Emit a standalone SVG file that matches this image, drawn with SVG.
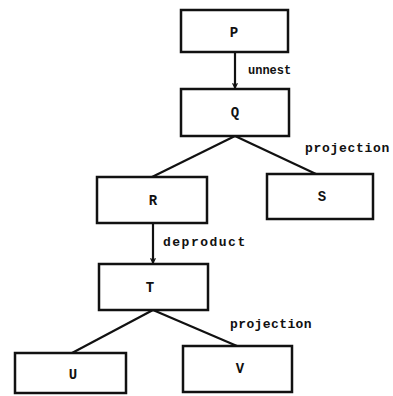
<svg xmlns="http://www.w3.org/2000/svg" width="393" height="396" viewBox="0 0 393 396">
<style>
.box{fill:none;stroke:#111;stroke-width:2.5}
.nl{font-family:"Liberation Mono",monospace;font-weight:bold;font-size:14px;fill:#111;text-anchor:middle;dominant-baseline:central}
.el{font-family:"Liberation Mono",monospace;font-weight:bold;fill:#111}
.c{fill:none;stroke:#111;stroke-width:2.2}
</style>
<defs>
<marker id="ah" viewBox="0 0 10 10" refX="9" refY="5" markerWidth="6" markerHeight="6" orient="auto" markerUnits="userSpaceOnUse">
<path d="M1,1 L9,5 L1,9" fill="none" stroke="#111" stroke-width="2"/>
</marker>
</defs>
<rect width="393" height="396" fill="#fff"/>
<g id="connectors">
<line class="c" x1="235" y1="52" x2="235" y2="88" marker-end="url(#ah)"/>
<line class="c" x1="235" y1="136" x2="152" y2="177"/>
<line class="c" x1="235" y1="136" x2="316" y2="174"/>
<line class="c" x1="153" y1="223" x2="153" y2="263" marker-end="url(#ah)"/>
<line class="c" x1="153" y1="310" x2="72" y2="353"/>
<line class="c" x1="153" y1="310" x2="237" y2="346"/>
<text class="el" x="248" y="74" font-size="12">unnest</text>
<text class="el" x="163" y="246" font-size="13" letter-spacing="1.5">deproduct</text>
<text class="el" x="305" y="152" font-size="13" letter-spacing="0.7">projection</text>
<text class="el" x="230" y="328" font-size="13" letter-spacing="0.4">projection</text>
</g>
<g id="P"><rect class="box" x="181" y="10" width="107" height="42"/><text class="nl" x="234" y="33">P</text></g>
<g id="Q"><rect class="box" x="181" y="89" width="108" height="47"/><text class="nl" x="235" y="113">Q</text></g>
<g id="R"><rect class="box" x="97" y="177" width="110" height="46"/><text class="nl" x="153" y="201">R</text></g>
<g id="S"><rect class="box" x="267" y="174" width="106" height="45"/><text class="nl" x="322" y="197">S</text></g>
<g id="T"><rect class="box" x="99" y="264" width="109" height="46"/><text class="nl" x="150" y="288">T</text></g>
<g id="U"><rect class="box" x="15" y="353" width="111" height="40"/><text class="nl" x="73" y="375">U</text></g>
<g id="V"><rect class="box" x="183" y="346" width="109" height="46"/><text class="nl" x="240" y="369">V</text></g>
</svg>
